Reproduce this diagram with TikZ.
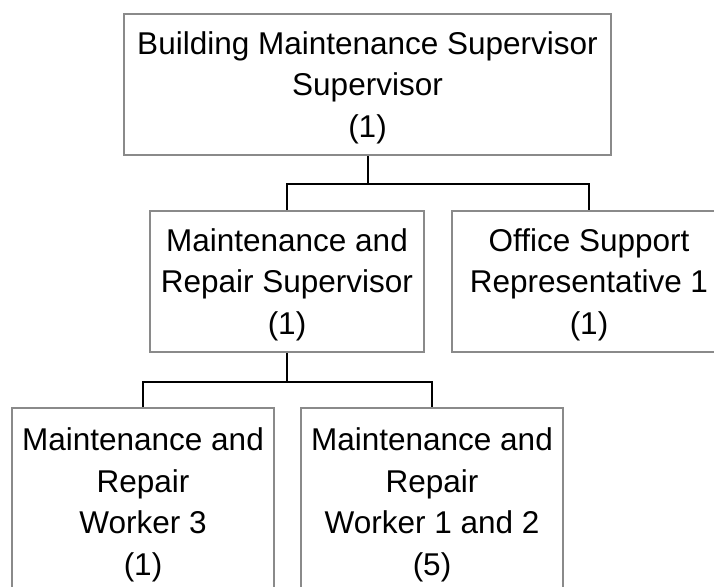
\documentclass[tikz,border=0pt]{standalone}
\usepackage{fontspec}
\setmainfont{Liberation Sans}
\begin{document}
\begin{tikzpicture}[x=1pt,y=-1pt,
  orgbox/.style={draw=boxgray, line width=2pt, rectangle, inner sep=0pt,
    align=center, font=\fontsize{31.5}{41.5}\selectfont, text=black},
  upper/.style={orgbox, text depth=0pt, minimum height=141pt},
  link/.style={draw=black, line width=2pt}]
\definecolor{boxgray}{HTML}{8A8A8A}
\clip (0,0) rectangle (714,586);
\fill[white] (0,0) rectangle (714,586);

% boxes of the chart
\node[upper, minimum width=487pt] (top) at (367.5,84.5)
  {Building Maintenance Supervisor\\Supervisor\\(1)};
\node[upper, minimum width=274pt] (mrs) at (287,281.5)
  {Maintenance and\\Repair Supervisor\\(1)};
\node[upper, minimum width=274pt] (osr) at (589,281.5)
  {Office Support\\Representative 1\\(1)};
\node[orgbox, minimum width=262pt, minimum height=194pt] (w3) at (143,505)
  {Maintenance and\\Repair\\Worker 3\\(1)};
\node[orgbox, minimum width=262pt, minimum height=194pt] (w12) at (432,505)
  {Maintenance and\\Repair\\Worker 1 and 2\\(5)};

% reporting lines
\coordinate (bus1) at (0,184);
\coordinate (bus2) at (0,382);
\draw[link] (top.south) -- (top.south |- bus1);
\draw[link] (mrs.north) -- (mrs.north |- bus1) -- (osr.north |- bus1) -- (osr.north);
\draw[link] (mrs.south) -- (mrs.south |- bus2);
\draw[link] (w3.north) -- (w3.north |- bus2) -- (w12.north |- bus2) -- (w12.north);
\end{tikzpicture}
\end{document}
